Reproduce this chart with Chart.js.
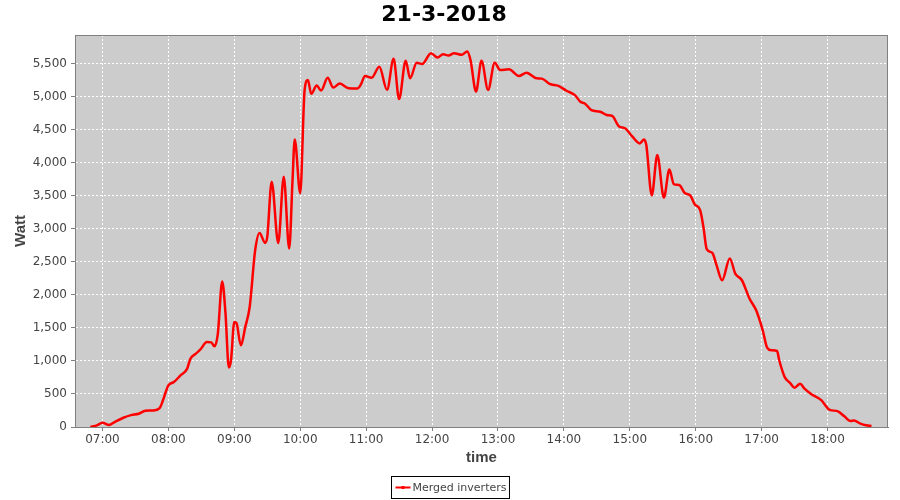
<!DOCTYPE html>
<html>
<head>
<meta charset="utf-8">
<title>21-3-2018</title>
<script src="https://cdn.jsdelivr.net/npm/chart.js@4.4.1/dist/chart.umd.min.js"></script>
<style>
  html, body { margin: 0; padding: 0; background: #ffffff; }
  #wrap { width: 900px; height: 500px; }
</style>
</head>
<body>
<div id="wrap"><canvas id="powerChart" width="900" height="500"></canvas></div>
<script>
// Meetpunten (tijd + vermogen)
const times = [
    '06:49', '06:55', '07:00', '07:06', '07:11', '07:19', '07:26', '07:33', '07:39', '07:46',
    '07:52', '07:55', '08:00', '08:05', '08:11', '08:17', '08:20', '08:25', '08:29', '08:35',
    '08:39', '08:42', '08:45', '08:49', '08:52', '08:55', '08:57', '09:00', '09:02', '09:06',
    '09:10', '09:14', '09:19', '09:23', '09:28', '09:30', '09:34', '09:40', '09:45', '09:50',
    '09:53', '09:55', '10:00', '10:04', '10:07', '10:10', '10:15', '10:19', '10:25', '10:30',
    '10:36', '10:44', '10:52', '10:55', '10:59', '11:05', '11:12', '11:19', '11:25', '11:30',
    '11:36', '11:40', '11:46', '11:51', '11:59', '12:05', '12:10', '12:15', '12:20', '12:27',
    '12:32', '12:35', '12:40', '12:45', '12:51', '12:57', '13:02', '13:10', '13:19', '13:26',
    '13:35', '13:40', '13:47', '13:55', '14:02', '14:10', '14:15', '14:19', '14:25', '14:33',
    '14:39', '14:44', '14:50', '14:56', '15:02', '15:09', '15:13', '15:15', '15:20', '15:25',
    '15:31', '15:36', '15:40', '15:45', '15:50', '15:55', '15:59', '16:04', '16:07', '16:10',
    '16:15', '16:19', '16:24', '16:31', '16:36', '16:42', '16:49', '16:55', '17:01', '17:05',
    '17:09', '17:14', '17:16', '17:21', '17:26', '17:30', '17:35', '17:39', '17:45', '17:54',
    '18:02', '18:09', '18:15', '18:21', '18:24', '18:30', '18:35', '18:40'
];

const watts = [
    0, 25, 65, 30, 75, 140, 180, 200, 245, 250,
    285, 400, 630, 680, 780, 880, 1030, 1110, 1170, 1285,
    1280, 1220, 1410, 2200, 1715, 900, 1010, 1590, 1570, 1235,
    1515, 1815, 2675, 2935, 2785, 2875, 3710, 2785, 3785, 2700,
    3735, 4350, 3535, 5100, 5250, 5040, 5165, 5090, 5285, 5135,
    5195, 5125, 5120, 5175, 5310, 5285, 5450, 5100, 5570, 4960,
    5540, 5275, 5510, 5490, 5655, 5590, 5640, 5620, 5655, 5630,
    5680, 5550, 5075, 5540, 5100, 5510, 5400, 5410, 5310, 5360,
    5275, 5270, 5190, 5160, 5090, 5020, 4920, 4895, 4795, 4770,
    4720, 4705, 4550, 4515, 4400, 4290, 4350, 4265, 3505, 4115,
    3470, 3895, 3675, 3660, 3540, 3505, 3370, 3280, 3025, 2690,
    2635, 2445, 2220, 2550, 2320, 2220, 1940, 1765, 1460, 1200,
    1160, 1150, 1010, 755, 665, 595, 655, 580, 500, 410,
    260, 240, 165, 90, 100, 50, 25, 15
];

const hourTicks = ['07:00', '08:00', '09:00', '10:00', '11:00', '12:00',
                   '13:00', '14:00', '15:00', '16:00', '17:00', '18:00'];

const wattTicks = [0, 500, 1000, 1500, 2000, 2500, 3000, 3500, 4000, 4500, 5000, 5500];

function toMinutes(t) {
    const parts = t.split(':');
    return parseInt(parts[0], 10) * 60 + parseInt(parts[1], 10);
}

function toLabel(m) {
    const h = Math.floor(m / 60), mm = m % 60;
    return (h < 10 ? '0' : '') + h + ':' + (mm < 10 ? '0' : '') + mm;
}

const points = times.map((t, i) => ({ x: toMinutes(t), y: watts[i] }));

// grijze plotachtergrond + rand
const plotArea = {
    id: 'plotArea',
    beforeDraw(chart) {
        const { ctx, chartArea: a } = chart;
        ctx.save();
        ctx.fillStyle = '#cccccc';
        ctx.fillRect(a.left, a.top, a.width, a.height);
        ctx.restore();
    },
    afterDraw(chart) {
        const { ctx, chartArea: a } = chart;
        ctx.save();
        ctx.strokeStyle = '#808080';
        ctx.lineWidth = 1;
        ctx.strokeRect(a.left + 0.5, a.top + 0.5, a.width - 1, a.height);
        ctx.restore();
    }
};

// legenda onderaan met kader (zoals JFreeChart)
const boxedLegend = {
    id: 'boxedLegend',
    afterDraw(chart) {
        const ctx = chart.ctx;
        const ds = chart.data.datasets[0];
        ctx.save();
        ctx.font = '11px "DejaVu Sans"';
        const tw = ctx.measureText(ds.label).width;
        const w = tw + 24;
        const h = 22;
        const x = Math.round(chart.width / 2 - w / 2) + 0.5;
        const y = 476.5;
        ctx.strokeStyle = '#000000';
        ctx.lineWidth = 1;
        ctx.strokeRect(x, y, w, h);
        ctx.strokeStyle = ds.borderColor;
        ctx.lineWidth = 2;
        ctx.beginPath();
        ctx.moveTo(x + 4, y + 11);
        ctx.lineTo(x + 19, y + 11);
        ctx.stroke();
        ctx.fillStyle = ds.borderColor;
        ctx.fillRect(x + 10, y + 9.5, 3, 3);
        ctx.fillStyle = '#444444';
        ctx.textBaseline = 'middle';
        ctx.fillText(ds.label, x + 21, y + 11.5);
        ctx.restore();
    }
};

new Chart(document.getElementById('powerChart'), {
    type: 'line',
    data: {
        datasets: [{
            label: 'Merged inverters',
            data: points,
            borderColor: '#ff0000',
            backgroundColor: '#ff0000',
            borderWidth: 2.5,
            pointRadius: 0,
            cubicInterpolationMode: 'monotone',
            fill: false
        }]
    },
    options: {
        responsive: false,
        animation: false,
        layout: {
            padding: { left: 0, right: 12, top: 0, bottom: 31 }
        },
        plugins: {
            legend: { display: false },
            tooltip: { enabled: false },
            title: {
                display: true,
                text: '21-3-2018',
                color: '#000000',
                font: { family: '"DejaVu Sans"', size: 22, weight: 'bold' },
                lineHeight: 1.2,
                padding: { top: 2, bottom: 6.6 }
            }
        },
        scales: {
            x: {
                type: 'linear',
                min: 395,
                max: 1135,
                afterFit: function(scale) { scale.height = 42; },
                afterBuildTicks: function(scale) {
                    scale.ticks = hourTicks.map(h => ({ value: toMinutes(h) }));
                },
                ticks: {
                    color: '#444444',
                    font: { family: '"DejaVu Sans"', size: 12 },
                    padding: 2,
                    maxRotation: 0,
                    autoSkip: false,
                    callback: function(value) { return toLabel(value); }
                },
                grid: {
                    color: '#ffffff',
                    lineWidth: 1,
                    tickColor: '#808080',
                    tickLength: 4,
                    tickBorderDash: []
                },
                border: { display: true, color: '#808080', dash: [2, 2] },
                title: {
                    display: true,
                    text: 'time',
                    color: '#444444',
                    font: { family: '"Liberation Sans"', size: 15, weight: 'bold' },
                    padding: { top: 0, bottom: 2 }
                }
            },
            y: {
                min: 0,
                max: 5930,
                afterFit: function(scale) { scale.width = 75; },
                afterBuildTicks: function(scale) {
                    scale.ticks = wattTicks.map(v => ({ value: v }));
                },
                ticks: {
                    color: '#444444',
                    font: { family: '"DejaVu Sans"', size: 12 },
                    padding: 4,
                    autoSkip: false,
                    callback: function(value) { return value.toLocaleString('en-US'); }
                },
                grid: {
                    color: '#ffffff',
                    lineWidth: 1,
                    tickColor: '#808080',
                    tickLength: 4,
                    tickBorderDash: []
                },
                border: { display: true, color: '#808080', dash: [2, 2] },
                title: {
                    display: true,
                    text: 'Watt',
                    color: '#444444',
                    font: { family: '"Liberation Sans"', size: 15, weight: 'bold' },
                    padding: { top: 12, bottom: 0 }
                }
            }
        }
    },
    plugins: [plotArea, boxedLegend]
});
</script>
</body>
</html>
